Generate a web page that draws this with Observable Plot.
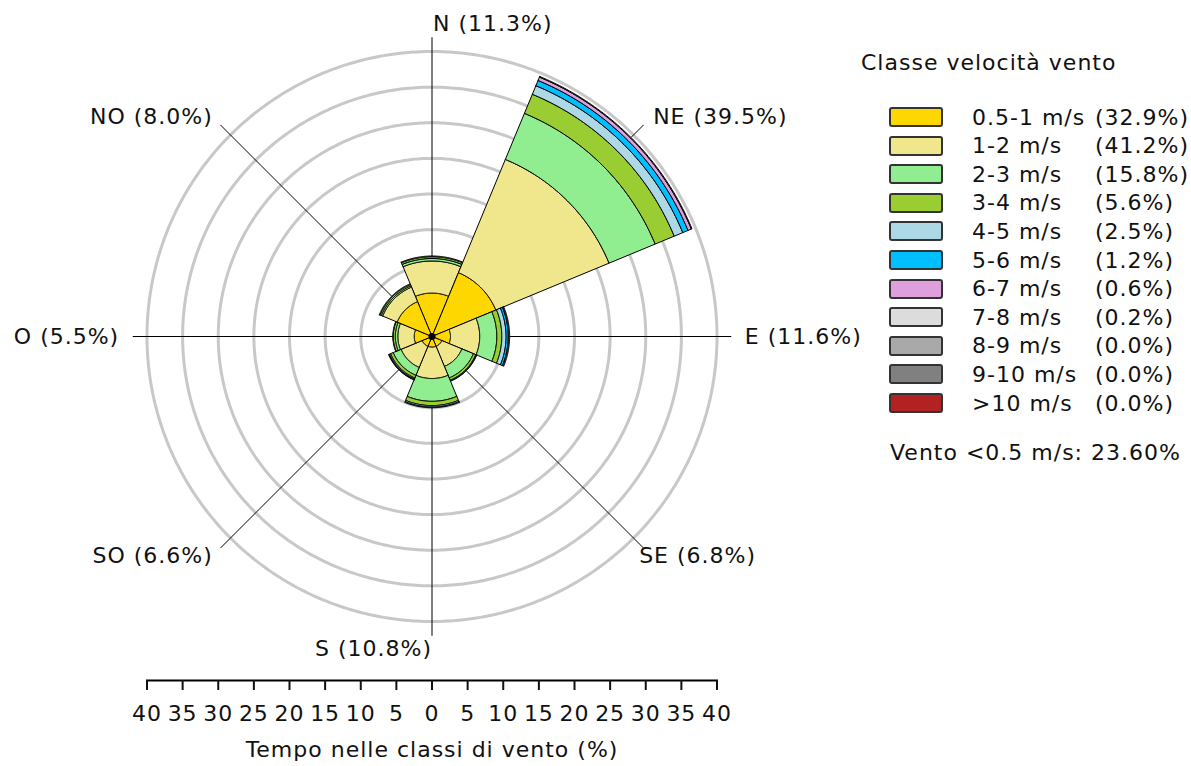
<!DOCTYPE html>
<html>
<head>
<meta charset="utf-8">
<script src="https://cdn.jsdelivr.net/npm/d3@7"></script>
<script src="https://cdn.jsdelivr.net/npm/@observablehq/plot@0.6"></script>
<style>
  body { margin: 0; background: #fff; font-family: "DejaVu Sans", Verdana, sans-serif; color: #111; }
  #wrap { position: relative; width: 1191px; height: 766px; overflow: hidden; }
  #wrap svg { position: absolute; left: 0; top: 0; max-width: none; background: transparent; }
  .lg { position: absolute; font-size: 22px; letter-spacing: 1px; white-space: pre; line-height: 22px; }
  .lg .n { display: inline-block; min-width: 123px; }
  .sw { position: absolute; width: 54px; height: 20px; box-sizing: border-box; border: 2px solid #333; border-radius: 3px; }
</style>
</head>
<body>
<div id="wrap"></div>
<script>
// ---------------- DATA ----------------
const directions = ["N", "NE", "E", "SE", "S", "SO", "O", "NO"];
const directionPercent = [11.3, 39.5, 11.6, 6.8, 10.8, 6.6, 5.5, 8.0];

const speedClasses = ["0.5-1 m/s", "1-2 m/s", "2-3 m/s", "3-4 m/s", "4-5 m/s", "5-6 m/s",
                      "6-7 m/s", "7-8 m/s", "8-9 m/s", "9-10 m/s", ">10 m/s"];
const classPercent = [32.9, 41.2, 15.8, 5.6, 2.5, 1.2, 0.6, 0.2, 0.0, 0.0, 0.0];
const classColors = ["#ffd700", "#f0e68c", "#90ee90", "#9acd32", "#add8e6", "#00bfff",
                     "#dda0dd", "#dcdcdc", "#a9a9a9", "#808080", "#b22222"];

// time (%) in each speed class, per direction (class order as above)
const freqN  = [6.1, 4.5, 0.35, 0.25, 0.1, 0, 0, 0, 0, 0, 0];
const freqNE = [9.7, 17.2, 7.0, 2.9, 1.3, 0.8, 0.5, 0.1, 0, 0, 0];
const freqE  = [2.6, 4.1, 2.4, 0.7, 0.6, 0.3, 0.1, 0.1, 0, 0, 0];
const freqSE = [1.5, 3.05, 1.75, 0.35, 0.1, 0.05, 0, 0, 0, 0, 0];
const freqS  = [1.5, 4.4, 3.2, 0.6, 0.2, 0.1, 0, 0, 0, 0, 0];
const freqSO = [1.5, 3.2, 1.2, 0.4, 0.15, 0.1, 0.05, 0, 0, 0, 0];
const freqO  = [2.5, 2.3, 0.35, 0.3, 0.05, 0, 0, 0, 0, 0, 0];
const freqNO = [5.3, 2.2, 0.2, 0.2, 0.1, 0, 0, 0, 0, 0, 0];

const ringLevels = [5, 10, 15, 20, 25, 30, 35, 40];
const axisTicks = [-40, -35, -30, -25, -20, -15, -10, -5, 0, 5, 10, 15, 20, 25, 30, 35, 40];
const legendTitle = "Classe velocità vento";
const calmLabel = "Vento <0.5 m/s: 23.60%";
const axisTitle = "Tempo nelle classi di vento (%)";

// ---------------- GEOMETRY (data units) ----------------
const freqByDirection = [freqN, freqNE, freqE, freqSE, freqS, freqSO, freqO, freqNO];
const RAD = Math.PI / 180;
const polar = (r, deg) => ({x: r * Math.sin(deg * RAD), y: r * Math.cos(deg * RAD)});
const arc = (r, a0, a1) => d3.range(a0, a1 + 0.001, 0.75).map(a => polar(r, a));

const bandPoints = [];
directions.forEach((dir, k) => {
  const c = k * 45, a0 = c - 22.5, a1 = c + 22.5;
  let r0 = 0;
  freqByDirection[k].forEach((v, j) => {
    if (!(v > 0)) return;
    const r1 = r0 + v;
    const outer = arc(r1, a0, a1);
    const inner = r0 > 0 ? arc(r0, a0, a1).reverse() : [{x: 0, y: 0}];
    const band = dir + "-" + j;
    [...outer, ...inner, outer[0]].forEach(p => bandPoints.push({band, cls: speedClasses[j], ...p}));
    r0 = r1;
  });
});

const ringPoints = ringLevels.flatMap(level => arc(level, 0, 360).map(p => ({level, ...p})));
const spokeLength = 42;
const spokes = directions.map((d, k) => ({dir: d, ...polar(spokeLength, k * 45)}));

const labelAnchorFor = k => [
  {anchor: "start", dx: 1}, {anchor: "start", dx: 2}, {anchor: "start", dx: 0}, {anchor: "start", dx: -12},
  {anchor: "end", dx: 0}, {anchor: "end", dx: 0}, {anchor: "end", dx: 0}, {anchor: "end", dx: 0}
][k];
const labels = directions.map((d, k) => {
  const r = k % 2 === 0 ? 43.9 : 43.5;
  return {text: `${d} (${directionPercent[k].toFixed(1)}%)`, ...polar(r, k * 45), ...labelAnchorFor(k)};
});
const labelMarks = ["start", "middle", "end"].flatMap(anchor =>
  [...new Set(labels.filter(l => l.anchor === anchor).map(l => l.dx))].map(dx =>
    Plot.text(labels.filter(l => l.anchor === anchor && l.dx === dx),
      {x: "x", y: "y", text: "text", textAnchor: anchor, lineAnchor: "middle", dx, fontSize: 22})));

// ---------------- PLOT ----------------
const chart = Plot.plot({
  width: 864,
  height: 766,
  marginLeft: 146.5,
  marginRight: 147.5,
  marginTop: 51,
  marginBottom: 86,
  style: {fontFamily: "'DejaVu Sans', Verdana, sans-serif", fontSize: "22px", letterSpacing: "1px",
          color: "#111", background: "transparent", overflow: "visible"},
  x: {domain: [-40, 40], range: [146.5, 716.5]},
  y: {domain: [-40, 40], range: [621, 51], axis: null},
  color: {domain: speedClasses, range: classColors},
  marks: [
    Plot.line(ringPoints, {x: "x", y: "y", z: "level", stroke: "#c8c8c8", strokeWidth: 3}),
    Plot.link(spokes, {x1: () => 0, y1: () => 0, x2: "x", y2: "y", stroke: "#000", strokeWidth: 1}),
    Plot.line(bandPoints, {x: "x", y: "y", z: "band", fill: "cls", stroke: "#000", strokeWidth: 1, strokeLinejoin: "miter"}),
    Plot.dot([0], {x: () => 0, y: () => 0, r: 3.5, fill: "#000"}),
    ...labelMarks,
    Plot.frame({anchor: "bottom", strokeWidth: 2, stroke: "#000"}),
    Plot.axisX({ticks: axisTicks, anchor: "bottom", tickSize: 10, tickPadding: 15, strokeWidth: 2,
                tickFormat: d => Math.abs(d), fontSize: 22, label: axisTitle, labelAnchor: "center",
                labelOffset: 76, labelArrow: "none"})
  ]
});

const wrap = document.getElementById("wrap");
wrap.appendChild(chart);

// ---------------- LEGEND (HTML, colours from the plot's scale) ----------------
const color = chart.scale("color");
const addDiv = (cls, left, top, html) => {
  const el = document.createElement("div");
  el.className = cls;
  el.style.left = left + "px";
  el.style.top = top + "px";
  if (html != null) el.innerHTML = html;
  wrap.appendChild(el);
  return el;
};
addDiv("lg", 861, 52).textContent = legendTitle;
speedClasses.forEach((c, i) => {
  const sw = addDiv("sw", 889, 107 + 28.6 * i);
  sw.style.background = color.apply(c);
  const lab = addDiv("lg", 972, 106.5 + 28.6 * i);
  const n = document.createElement("span"); n.className = "n"; n.textContent = c + " ";
  const p = document.createElement("span"); p.textContent = `(${classPercent[i].toFixed(1)}%)`;
  lab.append(n, p);
});
addDiv("lg", 890, 442).textContent = calmLabel;
</script>
</body>
</html>
